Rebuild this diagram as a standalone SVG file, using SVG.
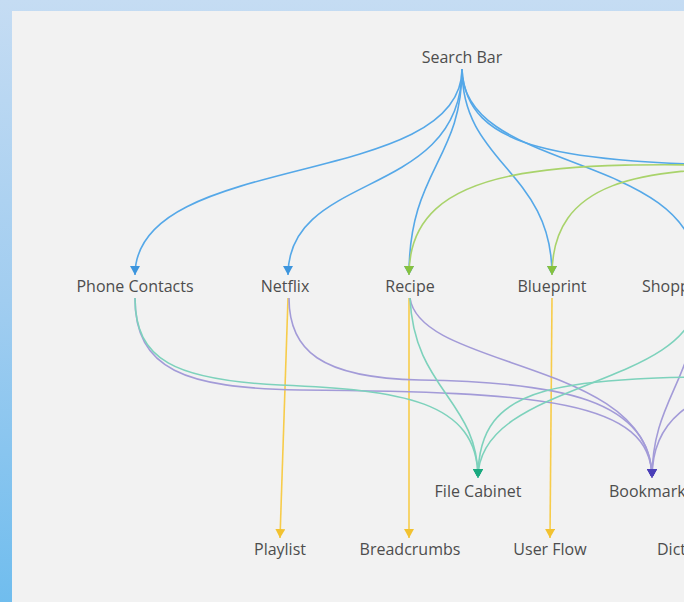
<svg xmlns="http://www.w3.org/2000/svg" width="684" height="602" viewBox="0 0 684 602">
<defs>
<linearGradient id="bg" x1="0" y1="0" x2="0" y2="1">
<stop offset="0" stop-color="#c5dcf3"/>
<stop offset="0.5" stop-color="#a1cdf0"/>
<stop offset="1" stop-color="#70bdee"/>
</linearGradient>
<marker id="aBlue" markerUnits="userSpaceOnUse" markerWidth="10" markerHeight="10" refX="9" refY="5" orient="auto"><path d="M0,0 L9,5 L0,10 z" fill="#3d95dd"/></marker>
<marker id="aGreen" markerUnits="userSpaceOnUse" markerWidth="10" markerHeight="10" refX="9" refY="5" orient="auto"><path d="M0,0 L9,5 L0,10 z" fill="#86c23e"/></marker>
<marker id="aYellow" markerUnits="userSpaceOnUse" markerWidth="10" markerHeight="10" refX="9" refY="5" orient="auto"><path d="M0,0 L9,5 L0,10 z" fill="#f2c230"/></marker>
<marker id="aTeal" markerUnits="userSpaceOnUse" markerWidth="10" markerHeight="10" refX="9" refY="5" orient="auto"><path d="M0,0 L9,5 L0,10 z" fill="#1aa97f"/></marker>
<marker id="aPurple" markerUnits="userSpaceOnUse" markerWidth="10" markerHeight="10" refX="9" refY="5" orient="auto"><path d="M0,0 L9,5 L0,10 z" fill="#4a3fb8"/></marker>
</defs>
<style>
.lbl{font-family:"Open Sans","Liberation Sans",sans-serif;font-size:16px;fill:#4d4d4d;text-anchor:middle}
.st{text-anchor:start}
.e{fill:none;stroke-width:1.6}
.blue{stroke:#55a8e8}
.green{stroke:#a9d36b}
.yellow{stroke:#f7cc4a}
.teal{stroke:#7dd2bc}
.purple{stroke:#a39bd8}
</style>
<rect x="0" y="0" width="684" height="602" fill="url(#bg)"/>
<rect x="12" y="11" width="672" height="591" fill="#f2f2f2"/>
<g id="connectors">
<path class="e blue" d="M462,69 C462,190 135,150 135,275" marker-end="url(#aBlue)"/>
<path class="e blue" d="M462,69 C462,200 288,170 288,275" marker-end="url(#aBlue)"/>
<path class="e blue" d="M462,69 C462,160 409,170 409,275" marker-end="url(#aBlue)"/>
<path class="e blue" d="M462,69 C462,165 552,170 552,275" marker-end="url(#aBlue)"/>
<path class="e blue" d="M462,69 C462,175 698,150 698,275" marker-end="url(#aBlue)"/>
<path class="e blue" d="M462,69 C466,150 560,163 770,166"/>
<path class="e green" d="M770,166 C560,162 409,160 409,275" marker-end="url(#aGreen)"/>
<path class="e green" d="M770,168 C640,168 552,180 552,275" marker-end="url(#aGreen)"/>
<path class="e yellow" d="M288,298 L280,538" marker-end="url(#aYellow)"/>
<path class="e yellow" d="M409,298 L409,538" marker-end="url(#aYellow)"/>
<path class="e yellow" d="M552,298 L550,538" marker-end="url(#aYellow)"/>
<path class="e purple" d="M135,298 C135,370 185,388 300,390 C540,392 652,400 652,478" marker-end="url(#aPurple)"/>
<path class="e purple" d="M289,298 C289,350 320,378 420,380 C560,382 652,400 652,478" marker-end="url(#aPurple)"/>
<path class="e purple" d="M410,298 C420,370 652,360 652,478" marker-end="url(#aPurple)"/>
<path class="e purple" d="M698,298 C695,380 652,400 652,478" marker-end="url(#aPurple)"/>
<path class="e purple" d="M760,380 C690,395 652,420 652,478" marker-end="url(#aPurple)"/>
<path class="e teal" d="M135,298 C135,360 175,380 280,385 C400,390 478,400 478,478" marker-end="url(#aTeal)"/>
<path class="e teal" d="M410,298 C414,390 478,400 478,478" marker-end="url(#aTeal)"/>
<path class="e teal" d="M698,298 C690,390 478,380 478,478" marker-end="url(#aTeal)"/>
<path class="e teal" d="M770,376 C560,378 478,380 478,478" marker-end="url(#aTeal)"/>
</g>
<g id="search-bar"><text class="lbl" x="462" y="63">Search Bar</text></g>
<g id="phone-contacts"><text class="lbl" x="135" y="292">Phone Contacts</text></g>
<g id="netflix"><text class="lbl" x="285" y="292">Netflix</text></g>
<g id="recipe"><text class="lbl" x="410" y="292">Recipe</text></g>
<g id="blueprint"><text class="lbl" x="552" y="292">Blueprint</text></g>
<g id="shopping"><text class="lbl st" x="642" y="292">Shopping Cart</text></g>
<g id="file-cabinet"><text class="lbl" x="478" y="497">File Cabinet</text></g>
<g id="bookmarks"><text class="lbl st" x="609" y="497">Bookmarks</text></g>
<g id="playlist"><text class="lbl" x="280" y="555">Playlist</text></g>
<g id="breadcrumbs"><text class="lbl" x="410" y="555">Breadcrumbs</text></g>
<g id="user-flow"><text class="lbl" x="550" y="555">User Flow</text></g>
<g id="dictionary"><text class="lbl st" x="657" y="555">Dictionary</text></g>
</svg>
